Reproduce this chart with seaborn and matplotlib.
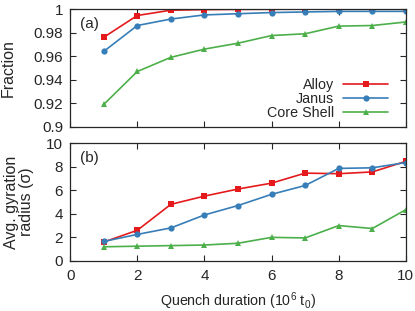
import numpy as np
import pandas as pd
import seaborn as sns
import matplotlib.pyplot as plt
from matplotlib.ticker import FormatStrFormatter

quench = [1, 2, 3, 4, 5, 6, 7, 8, 9, 10]

# fraction (panel a)
frac_alloy = [0.976, 0.9945, 0.999, 0.9995, 0.9997, 0.9998, 0.9999, 0.9999, 0.9999, 0.9999]
frac_janus = [0.964, 0.986, 0.9915, 0.995, 0.996, 0.997, 0.9975, 0.998, 0.998, 0.998]
frac_core = [0.919, 0.947, 0.959, 0.966, 0.971, 0.9775, 0.979, 0.9855, 0.986, 0.989]

# gyration radius (panel b)
rg_alloy = [1.6, 2.6, 4.8, 5.5, 6.1, 6.6, 7.45, 7.4, 7.55, 8.45]
rg_janus = [1.65, 2.25, 2.8, 3.9, 4.7, 5.65, 6.4, 7.85, 7.9, 8.35]
rg_core = [1.2, 1.25, 1.3, 1.35, 1.5, 2.0, 1.95, 3.0, 2.75, 4.35]

names = ['Alloy', 'Janus', 'Core Shell']
colors = ['#e41a1c', '#377eb8', '#4daf4a']
marks = ['s', 'o', '^']

sns.set_theme(style='ticks')
plt.rcParams['font.family'] = ['Liberation Sans', 'DejaVu Sans']
plt.rcParams['xtick.direction'] = 'in'
plt.rcParams['ytick.direction'] = 'in'
plt.rcParams['xtick.top'] = True
plt.rcParams['ytick.right'] = True

fig = plt.figure(figsize=(4.15, 3.11), dpi=100)
ax1 = fig.add_axes([0.169, 0.592, 0.809, 0.379])
ax2 = fig.add_axes([0.169, 0.161, 0.809, 0.379])

top = [frac_alloy, frac_janus, frac_core]
bot = [rg_alloy, rg_janus, rg_core]
for i in range(3):
    ms = 4.5 if marks[i] != '^' else 4.2
    sns.lineplot(x=quench, y=top[i], ax=ax1, color=colors[i], marker=marks[i],
                 markersize=ms, markeredgewidth=0, linewidth=1.2, label=names[i])
    sns.lineplot(x=quench, y=bot[i], ax=ax2, color=colors[i], marker=marks[i],
                 markersize=ms, markeredgewidth=0, linewidth=1.2, legend=False)

ax1.set_xlim(0, 10)
ax1.set_ylim(0.9, 1)
ax1.set_yticks([0.9, 0.92, 0.94, 0.96, 0.98, 1.0])
ax1.yaxis.set_major_formatter(FormatStrFormatter('%g'))
ax1.set_xticks([0, 2, 4, 6, 8, 10])
ax1.set_xticklabels([])
ax1.set_ylabel('Fraction', fontsize=11.5, va='center')
ax1.yaxis.set_label_coords(-0.183, 0.5)
ax1.text(0.03, 0.93, '(a)', transform=ax1.transAxes, fontsize=11, va='top')

leg = ax1.legend(loc='lower right', bbox_to_anchor=(0.946, 0.058), frameon=False,
                 markerfirst=False, handlelength=3.1, fontsize=10.3, labelspacing=0.0,
                 borderaxespad=0, borderpad=0, handletextpad=0.65)

ax2.set_xlim(0, 10)
ax2.set_ylim(0, 10)
ax2.set_xticks([0, 2, 4, 6, 8, 10])
ax2.set_yticks([0, 2, 4, 6, 8, 10])
ax2.set_ylabel('Avg. gyration\nradius (σ)', fontsize=11.5, linespacing=1.0, va='center')
ax2.yaxis.set_label_coords(-0.152, 0.5)
ax2.set_xlabel(r'Quench duration (10$\mathregular{^6}$ t$\mathregular{_0}$)', fontsize=10.3,
               labelpad=5)
ax2.text(0.03, 0.93, '(b)', transform=ax2.transAxes, fontsize=11, va='top')

for ax in [ax1, ax2]:
    ax.tick_params(labelsize=11, length=4, width=0.8)
    ax.tick_params(axis='y', pad=5)
    ax.tick_params(axis='x', pad=6)
    for s in ax.spines.values():
        s.set_linewidth(0.9)

fig.savefig('out.png', dpi=100)
